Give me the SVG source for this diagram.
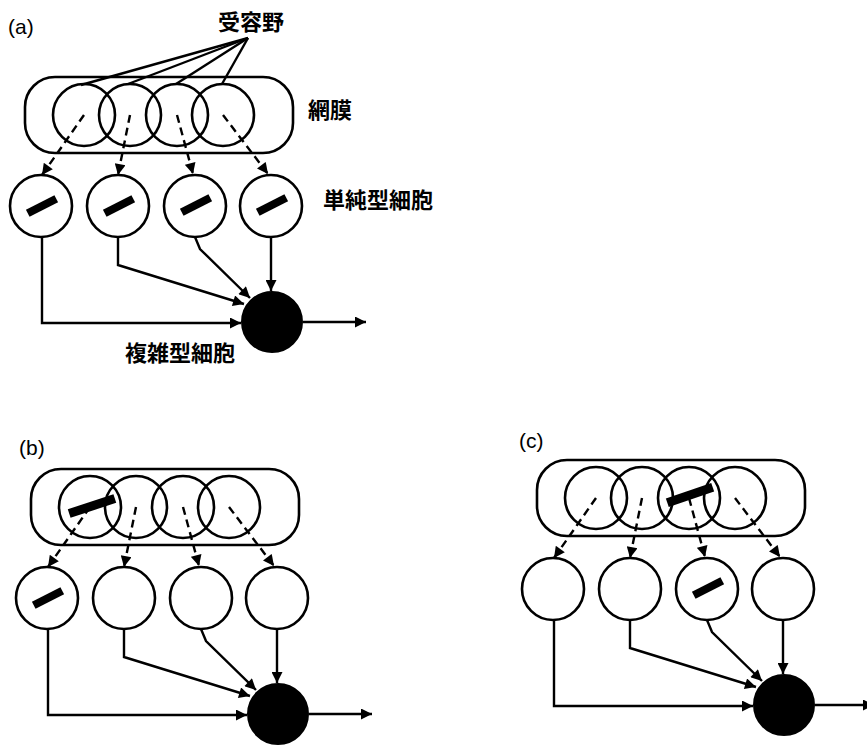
<svg xmlns="http://www.w3.org/2000/svg" width="867" height="745" viewBox="0 0 867 745">
<defs>
<style>
.ln{fill:none;stroke:#000;stroke-width:2.4}
.dash{fill:none;stroke:#000;stroke-width:2.4;stroke-dasharray:8 5}
.cell{fill:#fff;stroke:#000;stroke-width:2.6}
.rf{fill:none;stroke:#000;stroke-width:2.6}
.cx{fill:#000;stroke:#000;stroke-width:2}
.bar{fill:#000}
.lab{font-family:"Noto Sans CJK JP","Noto Sans CJK SC",sans-serif;font-weight:bold;font-size:22px;fill:#000}
.pl{font-family:"Liberation Sans",Arial,sans-serif;font-size:21px;fill:#000}
</style>
<marker id="ah" viewBox="0 0 10 10" refX="10" refY="5" markerWidth="13" markerHeight="11" markerUnits="userSpaceOnUse" orient="auto">
<path d="M0,0 L10,5 L0,10 Z" fill="#000"/>
</marker>
</defs>
<rect width="867" height="745" fill="#fff"/>

<!-- Panel (a) -->
<g id="panel-a">
<text class="pl" x="8" y="34">(a)</text>
<g id="a-retina"><rect class="rf" x="25" y="77" width="268" height="76" rx="30"/></g>
<g id="a-rf1"><circle class="rf" cx="84" cy="115" r="31"/></g>
<g id="a-rf2"><circle class="rf" cx="130" cy="115" r="31"/></g>
<g id="a-rf3"><circle class="rf" cx="177" cy="115" r="31"/></g>
<g id="a-rf4"><circle class="rf" cx="223" cy="115" r="31"/></g>
<g id="a-connectors">
<path class="ln" d="M248,38 L81,85"/>
<path class="ln" d="M248,38 L128,84"/>
<path class="ln" d="M248,38 L176,84"/>
<path class="ln" d="M248,38 L222,84"/>
<path class="dash" d="M84,115 L42,175" marker-end="url(#ah)"/>
<path class="dash" d="M130,115 L118,175" marker-end="url(#ah)"/>
<path class="dash" d="M177,115 L193,174" marker-end="url(#ah)"/>
<path class="dash" d="M223,115 L268,174" marker-end="url(#ah)"/>
<path class="ln" d="M42,237 V323 H241" marker-end="url(#ah)"/>
<path class="ln" d="M118,237 V265 L244,304" marker-end="url(#ah)"/>
<path class="ln" d="M195,237 L200,249 L250,298" marker-end="url(#ah)"/>
<path class="ln" d="M271,237 V291" marker-end="url(#ah)"/>
<path class="ln" d="M303,322 H366" marker-end="url(#ah)"/>
</g>
<g id="a-sc1"><circle class="cell" cx="41" cy="206" r="31"/><rect class="bar" x="-16" y="-4" width="32" height="8" transform="translate(42,206) rotate(-27)"/></g>
<g id="a-sc2"><circle class="cell" cx="118" cy="206" r="31"/><rect class="bar" x="-16" y="-4" width="32" height="8" transform="translate(119,206) rotate(-27)"/></g>
<g id="a-sc3"><circle class="cell" cx="195" cy="206" r="31"/><rect class="bar" x="-16" y="-4" width="32" height="8" transform="translate(196,205) rotate(-27)"/></g>
<g id="a-sc4"><circle class="cell" cx="271" cy="206" r="31"/><rect class="bar" x="-16" y="-4" width="32" height="8" transform="translate(272,205) rotate(-27)"/></g>
<g id="a-complex"><circle class="cx" cx="272" cy="322" r="30"/></g>
<text class="lab" x="218" y="30">受容野</text>
<text class="lab" x="308" y="118">網膜</text>
<text class="lab" x="323" y="208">単純型細胞</text>
<text class="lab" x="125" y="361">複雑型細胞</text>
</g>

<!-- Panel (b) -->
<text class="pl" x="19" y="455">(b)</text>
<g id="panel-b" transform="translate(6,392)">
<g id="b-retina"><rect class="rf" x="25" y="77" width="268" height="76" rx="30"/></g>
<g id="b-rf1"><circle class="rf" cx="84" cy="115" r="31"/></g>
<g id="b-rf2"><circle class="rf" cx="130" cy="115" r="31"/></g>
<g id="b-rf3"><circle class="rf" cx="177" cy="115" r="31"/></g>
<g id="b-rf4"><circle class="rf" cx="223" cy="115" r="31"/></g>
<g id="b-connectors">
<path class="dash" d="M84,115 L42,175" marker-end="url(#ah)"/>
<path class="dash" d="M130,115 L118,175" marker-end="url(#ah)"/>
<path class="dash" d="M177,115 L193,174" marker-end="url(#ah)"/>
<path class="dash" d="M223,115 L268,174" marker-end="url(#ah)"/>
<path class="ln" d="M42,237 V323 H241" marker-end="url(#ah)"/>
<path class="ln" d="M118,237 V265 L244,304" marker-end="url(#ah)"/>
<path class="ln" d="M195,237 L200,249 L250,298" marker-end="url(#ah)"/>
<path class="ln" d="M271,237 V291" marker-end="url(#ah)"/>
<path class="ln" d="M303,322 H366" marker-end="url(#ah)"/>
</g>
<g id="b-stim"><rect class="bar" x="-24" y="-4.5" width="48" height="9" transform="translate(86,114) rotate(-18)"/></g>
<g id="b-sc1"><circle class="cell" cx="41" cy="206" r="31"/><rect class="bar" x="-16" y="-4" width="32" height="8" transform="translate(42,206) rotate(-27)"/></g>
<g id="b-sc2"><circle class="cell" cx="118" cy="206" r="31"/></g>
<g id="b-sc3"><circle class="cell" cx="195" cy="206" r="31"/></g>
<g id="b-sc4"><circle class="cell" cx="271" cy="206" r="31"/></g>
<g id="b-complex"><circle class="cx" cx="272" cy="322" r="30"/></g>
</g>

<!-- Panel (c) -->
<text class="pl" x="519" y="448">(c)</text>
<g id="panel-c" transform="translate(512,383)">
<g id="c-retina"><rect class="rf" x="25" y="77" width="268" height="76" rx="30"/></g>
<g id="c-rf1"><circle class="rf" cx="84" cy="115" r="31"/></g>
<g id="c-rf2"><circle class="rf" cx="130" cy="115" r="31"/></g>
<g id="c-rf3"><circle class="rf" cx="177" cy="115" r="31"/></g>
<g id="c-rf4"><circle class="rf" cx="223" cy="115" r="31"/></g>
<g id="c-connectors">
<path class="dash" d="M84,115 L42,175" marker-end="url(#ah)"/>
<path class="dash" d="M130,115 L118,175" marker-end="url(#ah)"/>
<path class="dash" d="M177,115 L193,174" marker-end="url(#ah)"/>
<path class="dash" d="M223,115 L268,174" marker-end="url(#ah)"/>
<path class="ln" d="M42,237 V323 H241" marker-end="url(#ah)"/>
<path class="ln" d="M118,237 V265 L244,304" marker-end="url(#ah)"/>
<path class="ln" d="M195,237 L200,249 L250,298" marker-end="url(#ah)"/>
<path class="ln" d="M271,237 V291" marker-end="url(#ah)"/>
<path class="ln" d="M303,322 H362" marker-end="url(#ah)"/>
</g>
<g id="c-stim"><rect class="bar" x="-24" y="-4.5" width="48" height="9" transform="translate(178,112) rotate(-19)"/></g>
<g id="c-sc1"><circle class="cell" cx="41" cy="206" r="31"/></g>
<g id="c-sc2"><circle class="cell" cx="118" cy="206" r="31"/></g>
<g id="c-sc3"><circle class="cell" cx="195" cy="206" r="31"/><rect class="bar" x="-16" y="-4" width="32" height="8" transform="translate(196,205) rotate(-27)"/></g>
<g id="c-sc4"><circle class="cell" cx="271" cy="206" r="31"/></g>
<g id="c-complex"><circle class="cx" cx="272" cy="322" r="30"/></g>
</g>
</svg>
